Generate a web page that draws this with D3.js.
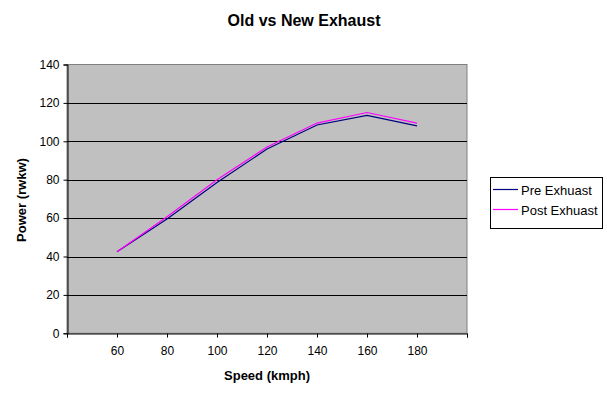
<!DOCTYPE html>
<html>
<head>
<meta charset="utf-8">
<script src="https://cdn.jsdelivr.net/npm/d3@7"></script>
<style>
  body { margin: 0; background: #fff; }
  text { font-family: Arial, "Liberation Sans", sans-serif; }
</style>
</head>
<body>
<div id="chart"></div>
<script>
// chart data
const speeds = [60, 80, 100, 120, 140, 160, 180];
const preExhaust = [42.5, 59.5, 78.5, 96, 108.5, 113.5, 108];
const postExhaust = [42.5, 60.7, 80, 97, 109.5, 115, 109.5];
const yTicks = [0, 20, 40, 60, 80, 100, 120, 140];
const xTicks = [40, 60, 80, 100, 120, 140, 160, 180, 200];
const seriesNames = ["Pre Exhuast", "Post Exhuast"];
const seriesColors = ["#000080", "#ff00ff"];

const width = 607, height = 396;
const plot = { left: 67, right: 467, top: 64.5, bottom: 333.3 };

const svg = d3.select("#chart")
  .append("svg")
  .attr("width", width)
  .attr("height", height);

const x = d3.scaleLinear().domain([40, 200]).range([plot.left, plot.right]);
const y = d3.scaleLinear().domain([0, 140]).range([plot.bottom, plot.top]);

// grey plot area
svg.append("rect")
  .attr("x", plot.left)
  .attr("y", plot.top)
  .attr("width", plot.right - plot.left)
  .attr("height", plot.bottom - plot.top)
  .attr("fill", "#c0c0c0")
  .attr("stroke", "#808080")
  .attr("stroke-width", 1);

// horizontal gridlines
svg.append("g")
  .selectAll("line")
  .data(yTicks.filter(d => d > 0 && d < 140))
  .enter()
  .append("line")
  .attr("x1", plot.left)
  .attr("x2", plot.right)
  .attr("y1", d => Math.round(y(d)) + 0.5)
  .attr("y2", d => Math.round(y(d)) + 0.5)
  .attr("stroke", "#000")
  .attr("stroke-width", 1);

// y axis
const yAxis = svg.append("g")
  .attr("transform", `translate(${plot.left + 0.5},0)`)
  .call(d3.axisLeft(y).tickValues(yTicks).tickSize(4).tickPadding(4));
yAxis.select(".domain").attr("stroke", "#000");
yAxis.selectAll("text").attr("font-size", 12).attr("fill", "#000");

// x axis (no labels on first/last tick)
const xAxis = svg.append("g")
  .attr("transform", `translate(0,${Math.round(plot.bottom) + 0.5})`)
  .call(d3.axisBottom(x).tickValues(xTicks).tickSize(4).tickPadding(9)
    .tickFormat(d => (d === 40 || d === 200) ? "" : d));
xAxis.select(".domain").attr("stroke", "#000");
xAxis.selectAll("text").attr("font-size", 12).attr("fill", "#000");

// lines
const line = d3.line()
  .x((d, i) => x(speeds[i]))
  .y(d => y(d));

[preExhaust, postExhaust].forEach((vals, i) => {
  svg.append("path")
    .datum(vals)
    .attr("d", line)
    .attr("fill", "none")
    .attr("stroke", seriesColors[i])
    .attr("stroke-width", 1.2);
});

// title
svg.append("text")
  .attr("x", 304)
  .attr("y", 26)
  .attr("text-anchor", "middle")
  .attr("font-size", 16)
  .attr("font-weight", "bold")
  .text("Old vs New Exhaust");

// axis titles
svg.append("text")
  .attr("x", 267)
  .attr("y", 380)
  .attr("text-anchor", "middle")
  .attr("font-size", 13)
  .attr("font-weight", "bold")
  .text("Speed (kmph)");

svg.append("text")
  .attr("transform", "translate(26,200) rotate(-90)")
  .attr("text-anchor", "middle")
  .attr("font-size", 13)
  .attr("font-weight", "bold")
  .text("Power (rwkw)");

// legend
const legend = svg.append("g");
legend.append("rect")
  .attr("x", 490.5)
  .attr("y", 177.5)
  .attr("width", 112)
  .attr("height", 51)
  .attr("fill", "#fff")
  .attr("stroke", "#000");

seriesNames.forEach((name, i) => {
  const ly = 189.5 + i * 20;
  legend.append("line")
    .attr("x1", 493)
    .attr("x2", 518)
    .attr("y1", ly)
    .attr("y2", ly)
    .attr("stroke", seriesColors[i])
    .attr("stroke-width", 1.2);
  legend.append("text")
    .attr("x", 521)
    .attr("y", ly + 5)
    .attr("font-size", 13)
    .text(name);
});
</script>
</body>
</html>
